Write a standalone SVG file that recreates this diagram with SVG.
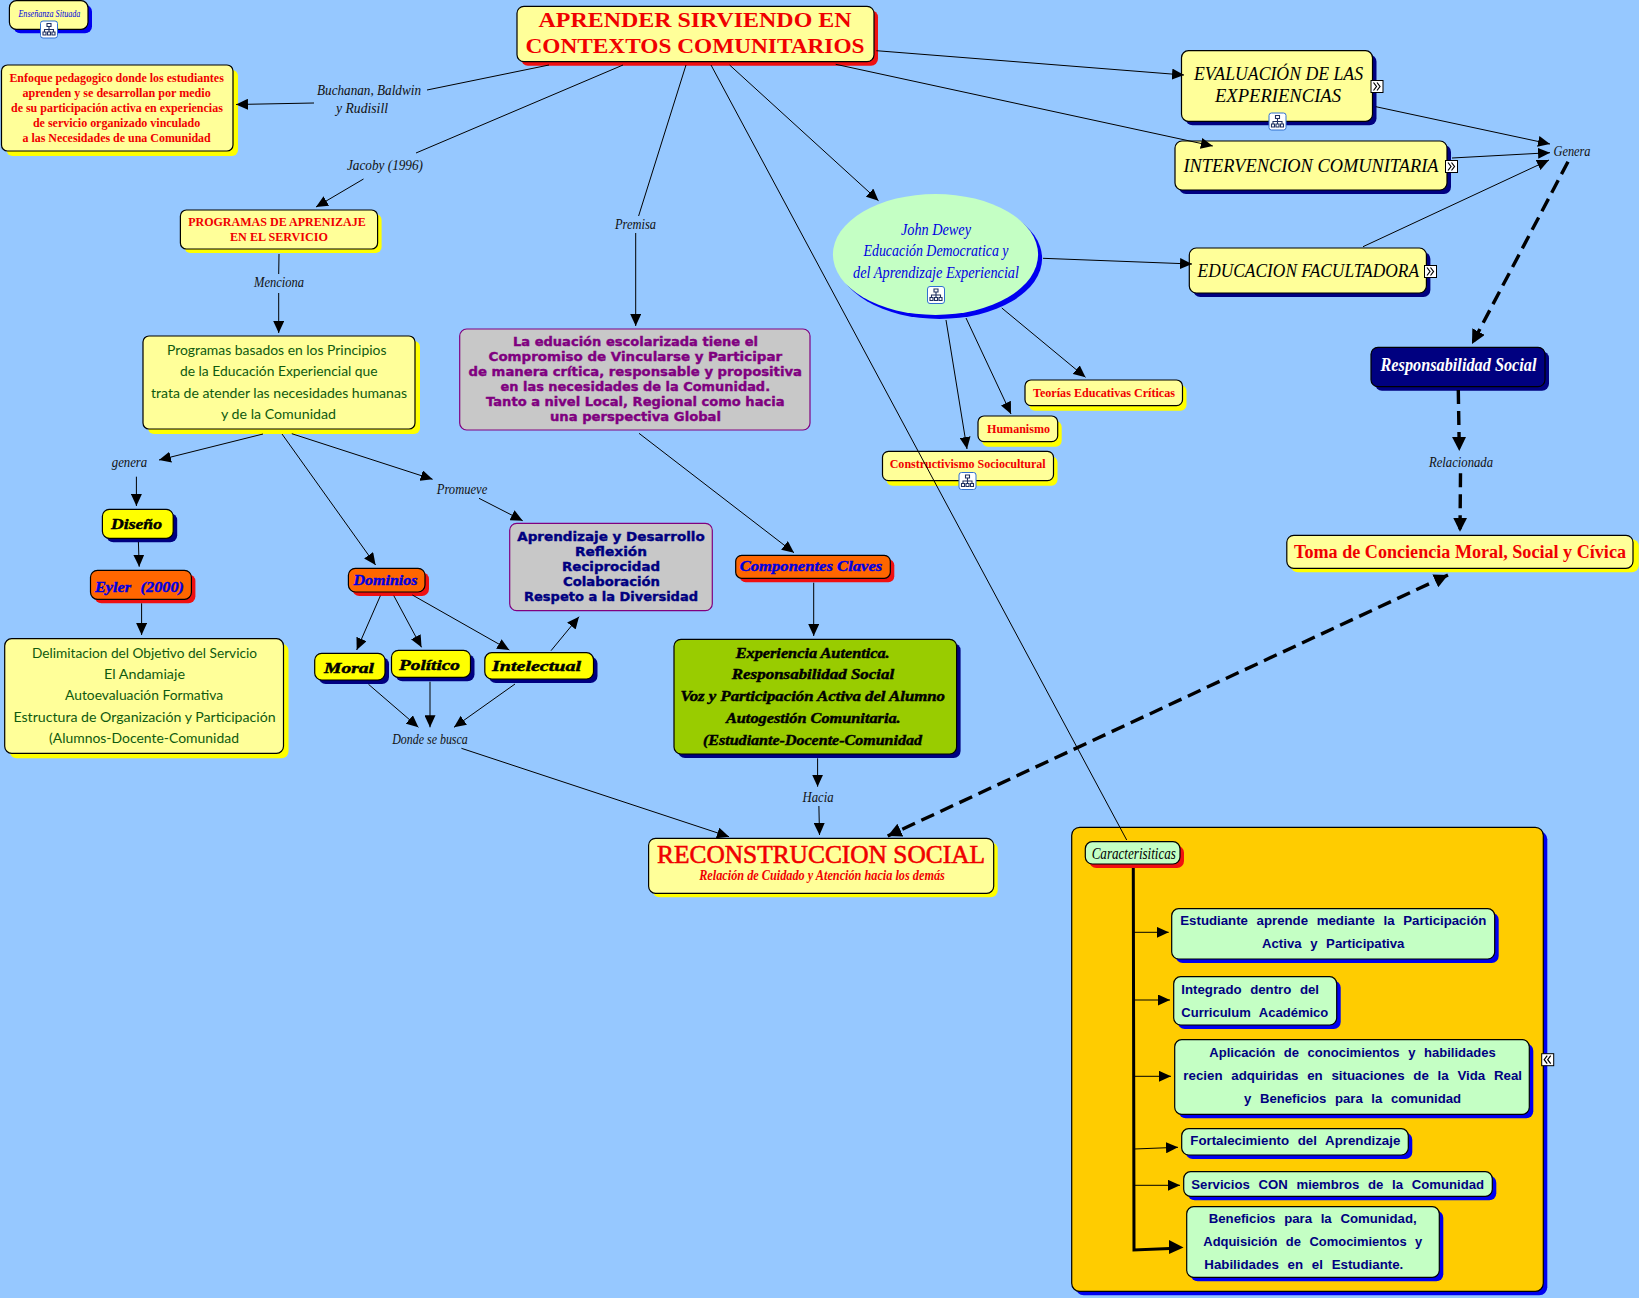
<svg xmlns="http://www.w3.org/2000/svg" width="1639" height="1298" viewBox="0 0 1639 1298">
<style>
text{text-anchor:middle}
rect.b{stroke:#000;stroke-width:1.2}
.pale{fill:#FFFF99}.mint{fill:#C4FFC4}.yel{fill:#FFFF00}.org{fill:#FF6600}.gry{fill:#C8C8C8;stroke:#800080!important}
.sy{fill:#FFFF00}.sr{fill:#F01010}.sn{fill:#000080}.sb{fill:#0000F0}
.lab{font:italic 15px "Liberation Serif",serif;fill:#111}
.tr{font:700 12.5px "Liberation Serif",serif;fill:#F00000}
.hand{font:14px "Lato",sans-serif;fill:#0F5A0F}
.pur{font:700 13px "DejaVu Sans",sans-serif;fill:#800080;stroke:#800080;stroke-width:.4}
.nav{font:700 13px "DejaVu Sans",sans-serif;fill:#000080;stroke:#000080;stroke-width:.4}
.ar{font:700 13.2px "Liberation Sans",sans-serif;fill:#000080;word-spacing:5px}
.scr{font:italic 18px "Liberation Serif",serif;fill:#000}
.blu{font:italic 17px "Liberation Serif",serif;fill:#0000E0}
.hv{font:italic 700 15px "Liberation Serif",serif;fill:#000;stroke:#000;stroke-width:.45}
.hb{font:italic 700 15px "Liberation Serif",serif;fill:#0000E0;stroke:#0000E0;stroke-width:.4}
line,polyline{stroke:#000;stroke-width:1;fill:none}
.a{marker-end:url(#ah)}
.d{stroke-width:3.4;stroke-dasharray:14 7;marker-end:url(#ahb)}
</style>
<defs>
<marker id="ah" markerUnits="userSpaceOnUse" markerWidth="13" markerHeight="11" refX="12" refY="5.500" orient="auto"><path d="M0 0L12 5.500L0 11z" fill="#000"/></marker>
<marker id="ahb" markerUnits="userSpaceOnUse" markerWidth="15" markerHeight="14" refX="14" refY="7" orient="auto"><path d="M0 0L14 7L0 14z" fill="#000"/></marker>
<marker id="ahs" markerUnits="userSpaceOnUse" markerWidth="15" markerHeight="14" refX="14" refY="7" orient="auto-start-reverse"><path d="M0 0L14 7L0 14z" fill="#000"/></marker>
<g id="ic"><rect width="17" height="17" rx="2.500" fill="#fff" stroke="#3070D0"/><path d="M6.500 2.500h4v3h-4zM2.500 11h3v3h-3zM7 11h3v3H7zM11.500 11h3v3h-3zM8.500 5.500V11M4 11V8.500h9V11" fill="none" stroke="#203060" stroke-width="1.100"/></g>
<g id="ex"><rect width="12" height="12" fill="#fff" stroke="#000"/><path d="M2.500 2l3 4-3 4M6 2l3 4-3 4" fill="none" stroke="#000" stroke-width="1.200"/></g>
<g id="co"><rect width="12" height="12" fill="#fff" stroke="#000"/><path d="M5.500 2l-3 4 3 4M9 2l-3 4 3 4" fill="none" stroke="#000" stroke-width="1.200"/></g>
</defs>
<rect width="1639" height="1298" fill="#96C8FF"/>

<g id="caja-caracteristicas"><rect class="sb" x="1075.700" y="831.300" width="471.600" height="464" rx="8"/><rect class="b" fill="#FFCC00" x="1071.700" y="827.300" width="471.600" height="464" rx="8"/></g>

<g id="ensenanza"><rect class="sb" x="13.400" y="4.700" width="78.600" height="28.600" rx="7"/><rect class="b pale" x="9.400" y=".7" width="78.600" height="28.600" rx="7"/><text class="blu" style="font-size:9.500px" x="49.400" y="17" textLength="62" lengthAdjust="spacingAndGlyphs">Enseñanza Situada</text><use href="#ic" x="40.500" y="21"/></g>

<g id="titulo"><rect class="sr" x="521" y="10.300" width="357" height="55.400" rx="7"/><rect class="b pale" x="517" y="6.300" width="357" height="55.400" rx="7"/><text x="695" y="27" textLength="313" lengthAdjust="spacingAndGlyphs" style="font:700 21px 'Liberation Serif',serif;fill:#F00000">APRENDER SIRVIENDO EN</text><text x="695" y="52.500" textLength="339" lengthAdjust="spacingAndGlyphs" style="font:700 21px 'Liberation Serif',serif;fill:#F00000">CONTEXTOS COMUNITARIOS</text></g>

<g id="enfoque"><rect class="sy" x="6.500" y="70" width="231.500" height="86" rx="6"/><rect class="b pale" x="1.500" y="65" width="231.500" height="86" rx="6"/>
<text class="tr" x="116.600" y="81.500" textLength="214.400" lengthAdjust="spacingAndGlyphs">Enfoque pedagogico donde los estudiantes</text>
<text class="tr" x="116.600" y="97" textLength="188.300" lengthAdjust="spacingAndGlyphs">aprenden y se desarrollan por medio</text>
<text class="tr" x="116.900" y="112" textLength="211.800" lengthAdjust="spacingAndGlyphs">de su participación activa en experiencias</text>
<text class="tr" x="116.600" y="127" textLength="167.300" lengthAdjust="spacingAndGlyphs">de servicio organizado vinculado</text>
<text class="tr" x="116.600" y="142" textLength="188.300" lengthAdjust="spacingAndGlyphs">a las Necesidades de una Comunidad</text></g>

<g id="l-buchanan"><text class="lab" x="369" y="95" textLength="104" lengthAdjust="spacingAndGlyphs">Buchanan, Baldwin</text><text class="lab" x="362" y="113" textLength="52" lengthAdjust="spacingAndGlyphs">y Rudisill</text></g>
<g id="l-jacoby"><text class="lab" x="385" y="170" textLength="76" lengthAdjust="spacingAndGlyphs">Jacoby (1996)</text></g>

<g id="programas"><rect class="sy" x="184.400" y="214" width="197.200" height="39" rx="6"/><rect class="b pale" x="180.400" y="210" width="197.200" height="39" rx="6"/>
<text class="tr" x="277" y="225.500" textLength="177.700" lengthAdjust="spacingAndGlyphs">PROGRAMAS DE APRENIZAJE</text><text class="tr" x="279" y="241" textLength="98" lengthAdjust="spacingAndGlyphs">EN EL SERVICIO</text></g>

<g id="l-menciona"><text class="lab" x="279" y="286.500" textLength="50" lengthAdjust="spacingAndGlyphs">Menciona</text></g>

<g id="basados"><rect class="sy" x="148" y="341" width="272" height="93" rx="6"/><rect class="b pale" x="143" y="336" width="272" height="93" rx="6"/>
<text class="hand" x="276.700" y="355" textLength="219.500" lengthAdjust="spacingAndGlyphs">Programas basados en los Principios</text>
<text class="hand" x="278.800" y="376" textLength="197.600" lengthAdjust="spacingAndGlyphs">de la Educación Experiencial que</text>
<text class="hand" x="279" y="397.500" textLength="256" lengthAdjust="spacingAndGlyphs">trata de atender las necesidades humanas</text>
<text class="hand" x="278.500" y="418.500" textLength="115" lengthAdjust="spacingAndGlyphs">y de la Comunidad</text></g>

<g id="l-premisa"><text class="lab" x="635.500" y="228.500" textLength="41" lengthAdjust="spacingAndGlyphs">Premisa</text></g>

<g id="educacion-escolarizada"><rect class="b gry" x="459.700" y="329" width="350.300" height="101" rx="7"/>
<text class="pur" x="635.500" y="346" textLength="245" lengthAdjust="spacingAndGlyphs">La eduación escolarizada tiene el</text>
<text class="pur" x="635.300" y="361" textLength="293.500" lengthAdjust="spacingAndGlyphs">Compromiso de Vincularse y Participar</text>
<text class="pur" x="635.300" y="376" textLength="333.400" lengthAdjust="spacingAndGlyphs">de manera crítica, responsable y propositiva</text>
<text class="pur" x="635.300" y="391" textLength="269.500" lengthAdjust="spacingAndGlyphs">en las necesidades de la Comunidad.</text>
<text class="pur" x="635.300" y="406" textLength="298.500" lengthAdjust="spacingAndGlyphs">Tanto a nivel Local, Regional como hacia</text>
<text class="pur" x="635.500" y="421" textLength="171" lengthAdjust="spacingAndGlyphs">una perspectiva Global</text></g>

<g id="evaluacion"><rect class="sn" x="1185.500" y="54.700" width="191" height="70.600" rx="7"/><rect class="b pale" x="1181.500" y="50.700" width="191" height="70.600" rx="7"/>
<text class="scr" x="1278.500" y="80" textLength="169" lengthAdjust="spacingAndGlyphs">EVALUACIÓN DE LAS</text><text class="scr" x="1278" y="101.500" textLength="126" lengthAdjust="spacingAndGlyphs">EXPERIENCIAS</text><use href="#ex" x="1371" y="80.500"/><use href="#ic" x="1269" y="113"/></g>

<g id="intervencion"><rect class="sn" x="1179" y="145" width="272" height="49" rx="7"/><rect class="b pale" x="1175" y="141" width="272" height="49" rx="7"/>
<text class="scr" x="1311" y="171.500" textLength="255" lengthAdjust="spacingAndGlyphs">INTERVENCION COMUNITARIA</text><use href="#ex" x="1445.500" y="160.500"/></g>

<g id="facultadora"><rect class="sn" x="1193.300" y="252" width="237.100" height="45" rx="7"/><rect class="b pale" x="1189.300" y="248" width="237.100" height="45" rx="7"/>
<text class="scr" x="1308.300" y="276.500" textLength="221.400" lengthAdjust="spacingAndGlyphs">EDUCACION FACULTADORA</text><use href="#ex" x="1424.500" y="265.500"/></g>

<g id="l-genera"><text class="lab" style="font-size:14px" x="1572" y="156" textLength="37" lengthAdjust="spacingAndGlyphs">Genera</text></g>

<g id="dewey"><ellipse cx="939.500" cy="258.500" rx="102.600" ry="60.500" fill="#0000F0"/><ellipse class="mint" cx="935.500" cy="254.500" rx="102.600" ry="60.500"/>
<text class="blu" x="936" y="235" textLength="70" lengthAdjust="spacingAndGlyphs">John Dewey</text>
<text class="blu" x="936" y="256" textLength="145" lengthAdjust="spacingAndGlyphs">Educación Democratica y</text>
<text class="blu" x="936" y="277.500" textLength="166" lengthAdjust="spacingAndGlyphs">del Aprendizaje Experiencial</text><use href="#ic" x="927.500" y="286.500"/></g>

<g id="teorias"><rect class="sy" x="1029" y="385" width="157.500" height="25.700" rx="6"/><rect class="b pale" x="1025" y="380" width="157.500" height="25.700" rx="6"/><text class="tr" x="1104" y="397" textLength="142" lengthAdjust="spacingAndGlyphs">Teorías Educativas Críticas</text></g>
<g id="humanismo"><rect class="sy" x="982" y="421" width="79.700" height="25.700" rx="6"/><rect class="b pale" x="978" y="416" width="79.700" height="25.700" rx="6"/><text class="tr" x="1018.500" y="433" textLength="63" lengthAdjust="spacingAndGlyphs">Humanismo</text></g>
<g id="constructivismo"><rect class="sy" x="886.500" y="456.300" width="171" height="29.400" rx="6"/><rect class="b pale" x="882.500" y="451.300" width="171" height="29.400" rx="6"/><text class="tr" x="967.700" y="468" textLength="156" lengthAdjust="spacingAndGlyphs">Constructivismo Sociocultural</text><use href="#ic" x="959" y="472.500"/></g>

<g id="responsabilidad"><rect class="sn" x="1375" y="351.300" width="174" height="39.400" rx="7"/><rect class="b sn" x="1371" y="347.300" width="174" height="39.400" rx="7"/><text x="1458.500" y="371" textLength="156" lengthAdjust="spacingAndGlyphs" style="font:italic 700 19px 'Liberation Serif',serif;fill:#fff">Responsabilidad Social</text></g>
<g id="l-relacionada"><text class="lab" style="font-size:14px" x="1461" y="466.500" textLength="64" lengthAdjust="spacingAndGlyphs">Relacionada</text></g>
<g id="toma"><rect class="sy" x="1290.800" y="539.300" width="348" height="33" rx="7"/><rect class="b pale" x="1286.800" y="535.300" width="346.200" height="33" rx="7"/><text x="1460" y="557.500" textLength="332" lengthAdjust="spacingAndGlyphs" style="font:700 18.500px 'Liberation Serif',serif;fill:#F00000">Toma de Conciencia Moral, Social y Cívica</text></g>

<g id="componentes"><rect class="sr" x="739.700" y="559.300" width="154.600" height="23" rx="6"/><rect class="b org" x="735.700" y="555.300" width="154.600" height="23" rx="6"/><text class="hb" x="811" y="571" textLength="142.500" lengthAdjust="spacingAndGlyphs">Componentes Claves</text></g>

<g id="experiencia"><rect class="sn" x="678" y="643.300" width="282.600" height="114.700" rx="7"/><rect class="b" fill="#99CC00" x="674" y="639.300" width="282.600" height="114.700" rx="7"/>
<text class="hv" x="812.700" y="658" textLength="154" lengthAdjust="spacingAndGlyphs">Experiencia Autentica.</text>
<text class="hv" x="813" y="679" textLength="162.400" lengthAdjust="spacingAndGlyphs">Responsabilidad Social</text>
<text class="hv" x="812.700" y="701" textLength="264.600" lengthAdjust="spacingAndGlyphs">Voz y Participación Activa del Alumno</text>
<text class="hv" x="813.300" y="723" textLength="174.700" lengthAdjust="spacingAndGlyphs">Autogestión Comunitaria.</text>
<text class="hv" x="812.500" y="745" textLength="219" lengthAdjust="spacingAndGlyphs">(Estudiante-Docente-Comunidad</text></g>

<g id="l-hacia"><text class="lab" style="font-size:14px" x="818" y="802" textLength="31" lengthAdjust="spacingAndGlyphs">Hacia</text></g>

<g id="reconstruccion"><rect class="sy" x="652.600" y="842.300" width="345.100" height="55" rx="7"/><rect class="b pale" x="648.600" y="838.300" width="345.100" height="55" rx="7"/>
<text x="821" y="863" textLength="328" lengthAdjust="spacingAndGlyphs" style="font:26px 'Liberation Serif',serif;fill:#F00000;stroke:#F00000;stroke-width:.6">RECONSTRUCCION SOCIAL</text>
<text x="822" y="880" textLength="245.700" lengthAdjust="spacingAndGlyphs" style="font:italic 700 14px 'Liberation Serif',serif;fill:#F00000">Relación de Cuidado y Atención hacia los demás</text></g>

<g id="l-genera2"><text class="lab" style="font-size:14px" x="129.500" y="467" textLength="35.500" lengthAdjust="spacingAndGlyphs">genera</text></g>
<g id="diseno"><rect class="sn" x="106.400" y="513.300" width="70.800" height="29" rx="7"/><rect class="b yel" x="102.400" y="509.300" width="70.800" height="29" rx="7"/><text class="hv" x="136.500" y="529" textLength="51" lengthAdjust="spacingAndGlyphs">Diseño</text></g>
<g id="eyler"><rect class="sr" x="94.500" y="574.300" width="100.900" height="29" rx="7"/><rect class="b org" x="90.500" y="570.300" width="100.900" height="29" rx="7"/><text class="hb" style="word-spacing:5px" x="139.500" y="591.500" textLength="89" lengthAdjust="spacingAndGlyphs">Eyler (2000)</text></g>
<g id="delimitacion"><rect class="sy" x="9.700" y="643.700" width="278.800" height="114.600" rx="7"/><rect class="b pale" x="4.700" y="638.700" width="278.800" height="114.600" rx="7"/>
<text class="hand" x="144.500" y="658" textLength="225" lengthAdjust="spacingAndGlyphs">Delimitacion del Objetivo del Servicio</text>
<text class="hand" x="144.500" y="679" textLength="81" lengthAdjust="spacingAndGlyphs">El Andamiaje</text>
<text class="hand" x="144" y="700" textLength="158" lengthAdjust="spacingAndGlyphs">Autoevaluación Formativa</text>
<text class="hand" x="144.500" y="721.500" textLength="262.200" lengthAdjust="spacingAndGlyphs">Estructura de Organización y Participación</text>
<text class="hand" x="144" y="742.500" textLength="190" lengthAdjust="spacingAndGlyphs">(Alumnos-Docente-Comunidad</text></g>

<g id="dominios"><rect class="sr" x="352.400" y="572.300" width="76.600" height="23.700" rx="7"/><rect class="b org" x="348.400" y="568.300" width="76.600" height="23.700" rx="7"/><text class="hb" x="385.500" y="585" textLength="64" lengthAdjust="spacingAndGlyphs">Dominios</text></g>
<g id="moral"><rect class="sn" x="318.700" y="657.300" width="70.300" height="26.700" rx="7"/><rect class="b yel" x="314.700" y="653.300" width="70.300" height="26.700" rx="7"/><text class="hv" x="349" y="672.500" textLength="50" lengthAdjust="spacingAndGlyphs">Moral</text></g>
<g id="politico"><rect class="sn" x="395.500" y="654.300" width="79" height="27" rx="7"/><rect class="b yel" x="391.500" y="650.300" width="79" height="27" rx="7"/><text class="hv" x="429.500" y="670" textLength="61" lengthAdjust="spacingAndGlyphs">Político</text></g>
<g id="intelectual"><rect class="sn" x="488.800" y="656.700" width="108.700" height="26.300" rx="7"/><rect class="b yel" x="484.800" y="652.700" width="108.700" height="26.300" rx="7"/><text class="hv" x="536.500" y="671" textLength="89" lengthAdjust="spacingAndGlyphs">Intelectual</text></g>
<g id="l-donde"><text class="lab" style="font-size:14px" x="430" y="744" textLength="75.500" lengthAdjust="spacingAndGlyphs">Donde se busca</text></g>
<g id="l-promueve"><text class="lab" style="font-size:14px" x="462" y="494" textLength="50.500" lengthAdjust="spacingAndGlyphs">Promueve</text></g>

<g id="aprendizaje"><rect class="b gry" x="509.700" y="523.300" width="202.600" height="87.400" rx="7"/>
<text class="nav" x="611" y="541" textLength="187.500" lengthAdjust="spacingAndGlyphs">Aprendizaje y Desarrollo</text>
<text class="nav" x="611" y="556" textLength="72" lengthAdjust="spacingAndGlyphs">Reflexión</text>
<text class="nav" x="611" y="571" textLength="98" lengthAdjust="spacingAndGlyphs">Reciprocidad</text>
<text class="nav" x="611.500" y="586" textLength="97" lengthAdjust="spacingAndGlyphs">Colaboración</text>
<text class="nav" x="611" y="601" textLength="174" lengthAdjust="spacingAndGlyphs">Respeto a la Diversidad</text></g>

<g id="caracteristicas"><rect class="sr" x="1089.300" y="845.700" width="94.700" height="22.300" rx="7"/><rect class="b mint" x="1085.300" y="841.700" width="94.700" height="22.300" rx="7"/><text class="scr" style="font-size:16px" x="1133.800" y="858.700" textLength="84.300" lengthAdjust="spacingAndGlyphs">Caracterisiticas</text></g>

<g id="c1"><rect class="sb" x="1175.700" y="912.700" width="323" height="50.300" rx="7"/><rect class="b mint" x="1171.700" y="908.700" width="323" height="50.300" rx="7"/>
<text class="ar" x="1333.300" y="925" textLength="306" lengthAdjust="spacingAndGlyphs">Estudiante aprende mediante la Participación</text><text class="ar" x="1333.200" y="948.300" textLength="142.300" lengthAdjust="spacingAndGlyphs">Activa y Participativa</text></g>
<g id="c2"><rect class="sb" x="1177.700" y="980.700" width="163" height="48.300" rx="7"/><rect class="b mint" x="1173.700" y="976.700" width="163" height="48.300" rx="7"/>
<text class="ar" x="1250.200" y="994" textLength="137.700" lengthAdjust="spacingAndGlyphs">Integrado dentro del</text><text class="ar" x="1254.800" y="1017" textLength="147" lengthAdjust="spacingAndGlyphs">Curriculum Académico</text></g>
<g id="c3"><rect class="sb" x="1178.700" y="1043.700" width="354.600" height="74.600" rx="7"/><rect class="b mint" x="1174.700" y="1039.700" width="354.600" height="74.600" rx="7"/>
<text class="ar" x="1352.500" y="1057" textLength="286.400" lengthAdjust="spacingAndGlyphs">Aplicación de conocimientos y habilidades</text>
<text class="ar" x="1352.700" y="1080.300" textLength="338.700" lengthAdjust="spacingAndGlyphs">recien adquiridas en situaciones de la Vida Real</text>
<text class="ar" x="1352.500" y="1103.300" textLength="217" lengthAdjust="spacingAndGlyphs">y Beneficios para la comunidad</text></g>
<g id="c4"><rect class="sb" x="1185.700" y="1132.700" width="226.600" height="26.300" rx="7"/><rect class="b mint" x="1181.700" y="1128.700" width="226.600" height="26.300" rx="7"/><text class="ar" x="1295.300" y="1145.200" textLength="210" lengthAdjust="spacingAndGlyphs">Fortalecimiento del Aprendizaje</text></g>
<g id="c5"><rect class="sb" x="1187.700" y="1175.700" width="308.600" height="24.600" rx="7"/><rect class="b mint" x="1183.700" y="1171.700" width="308.600" height="24.600" rx="7"/><text class="ar" x="1337.700" y="1188.500" textLength="292.700" lengthAdjust="spacingAndGlyphs">Servicios CON miembros de la Comunidad</text></g>
<g id="c6"><rect class="sb" x="1190.700" y="1210.700" width="252.600" height="70.600" rx="7"/><rect class="b mint" x="1186.700" y="1206.700" width="252.600" height="70.600" rx="7"/>
<text class="ar" x="1312.700" y="1223" textLength="208" lengthAdjust="spacingAndGlyphs">Beneficios para la Comunidad,</text>
<text class="ar" x="1312.800" y="1246.300" textLength="219" lengthAdjust="spacingAndGlyphs">Adquisición de Comocimientos y</text>
<text class="ar" x="1303.800" y="1269.300" textLength="199" lengthAdjust="spacingAndGlyphs">Habilidades en el Estudiante.</text></g>
<g id="colapsar"><use href="#co" x="1541.700" y="1053.700"/></g>

<g id="connectors">
<line x1="549" y1="65" x2="427" y2="90"/><line class="a" x1="314" y1="103" x2="236" y2="104.500"/>
<line x1="623" y1="65" x2="416" y2="153"/><line class="a" x1="363.500" y1="179" x2="316" y2="207"/>
<line x1="279" y1="254" x2="278.700" y2="274"/><line class="a" x1="278.700" y1="293" x2="278.700" y2="333"/>
<line x1="686" y1="65" x2="638.600" y2="216"/><line class="a" x1="635.700" y1="233" x2="635.700" y2="326"/>
<line x1="711" y1="65" x2="1126.700" y2="840"/>
<line class="a" x1="729.600" y1="65" x2="878.500" y2="200.700"/>
<line class="a" x1="876.400" y1="50.700" x2="1184" y2="75"/>
<line class="a" x1="835.700" y1="64.300" x2="1212.800" y2="146"/>
<line class="a" x1="1375.800" y1="106.700" x2="1550" y2="144"/>
<line class="a" x1="1452" y1="158" x2="1550" y2="152.700"/>
<line class="a" x1="1363" y1="246.700" x2="1549" y2="160"/>
<line class="d" x1="1568" y1="161.700" x2="1472" y2="344"/>
<line class="a" x1="1043" y1="258.300" x2="1192" y2="264"/>
<line class="a" x1="1001.800" y1="308" x2="1085.500" y2="377.300"/>
<line class="a" x1="966" y1="318" x2="1011" y2="414"/>
<line class="a" x1="946" y1="320" x2="967" y2="449"/>
<line class="d" x1="1458.300" y1="390" x2="1459.300" y2="451"/>
<line class="d" x1="1460.500" y1="473.300" x2="1460" y2="531.700"/>
<line class="d" x1="1448" y1="575" x2="887.700" y2="836" style="marker-start:url(#ahs);marker-end:url(#ahs)"/>
<line class="a" x1="639" y1="433.300" x2="794" y2="552.700"/>
<line class="a" x1="813.700" y1="582.700" x2="813.700" y2="636"/>
<line class="a" x1="817.600" y1="758.300" x2="817.600" y2="786.700"/>
<line class="a" x1="818.900" y1="806" x2="819.500" y2="835"/>
<line class="a" x1="461.400" y1="748.300" x2="729" y2="836.700"/>
<line class="a" x1="263" y1="434" x2="159" y2="460"/>
<line class="a" x1="136.400" y1="476.700" x2="136.400" y2="506"/>
<line class="a" x1="138.400" y1="542" x2="139.200" y2="566.700"/>
<line class="a" x1="141.600" y1="603.300" x2="141.600" y2="635"/>
<line class="a" x1="282" y1="434" x2="375.600" y2="565"/>
<line class="a" x1="291.800" y1="433.700" x2="432.600" y2="479.300"/>
<line class="a" x1="479" y1="498.300" x2="522.700" y2="520.700"/>
<line class="a" x1="380.400" y1="595.700" x2="356.700" y2="650"/>
<line class="a" x1="393.800" y1="595.700" x2="421.500" y2="647.300"/>
<line class="a" x1="412.400" y1="595" x2="509.300" y2="650"/>
<line class="a" x1="551" y1="650.700" x2="579" y2="616.700"/>
<line class="a" x1="368.500" y1="684.300" x2="418.400" y2="727.300"/>
<line class="a" x1="430" y1="681.700" x2="430" y2="727.300"/>
<line class="a" x1="515" y1="684" x2="454" y2="727.300"/>
<polyline style="stroke-width:3" points="1133.300,868 1134,1250 1170,1248.500"/>
<path d="M1169 1240L1183.500 1247.500L1169 1254z" fill="#000"/>
<line class="a" x1="1134" y1="932.300" x2="1168.700" y2="932.300"/>
<line class="a" x1="1134" y1="1000" x2="1170" y2="1000"/>
<line class="a" x1="1134" y1="1076.300" x2="1171" y2="1076.300"/>
<line class="a" x1="1134" y1="1149" x2="1178" y2="1147.300"/>
<line class="a" x1="1134" y1="1185.300" x2="1180" y2="1185.300"/>
</g>
</svg>
